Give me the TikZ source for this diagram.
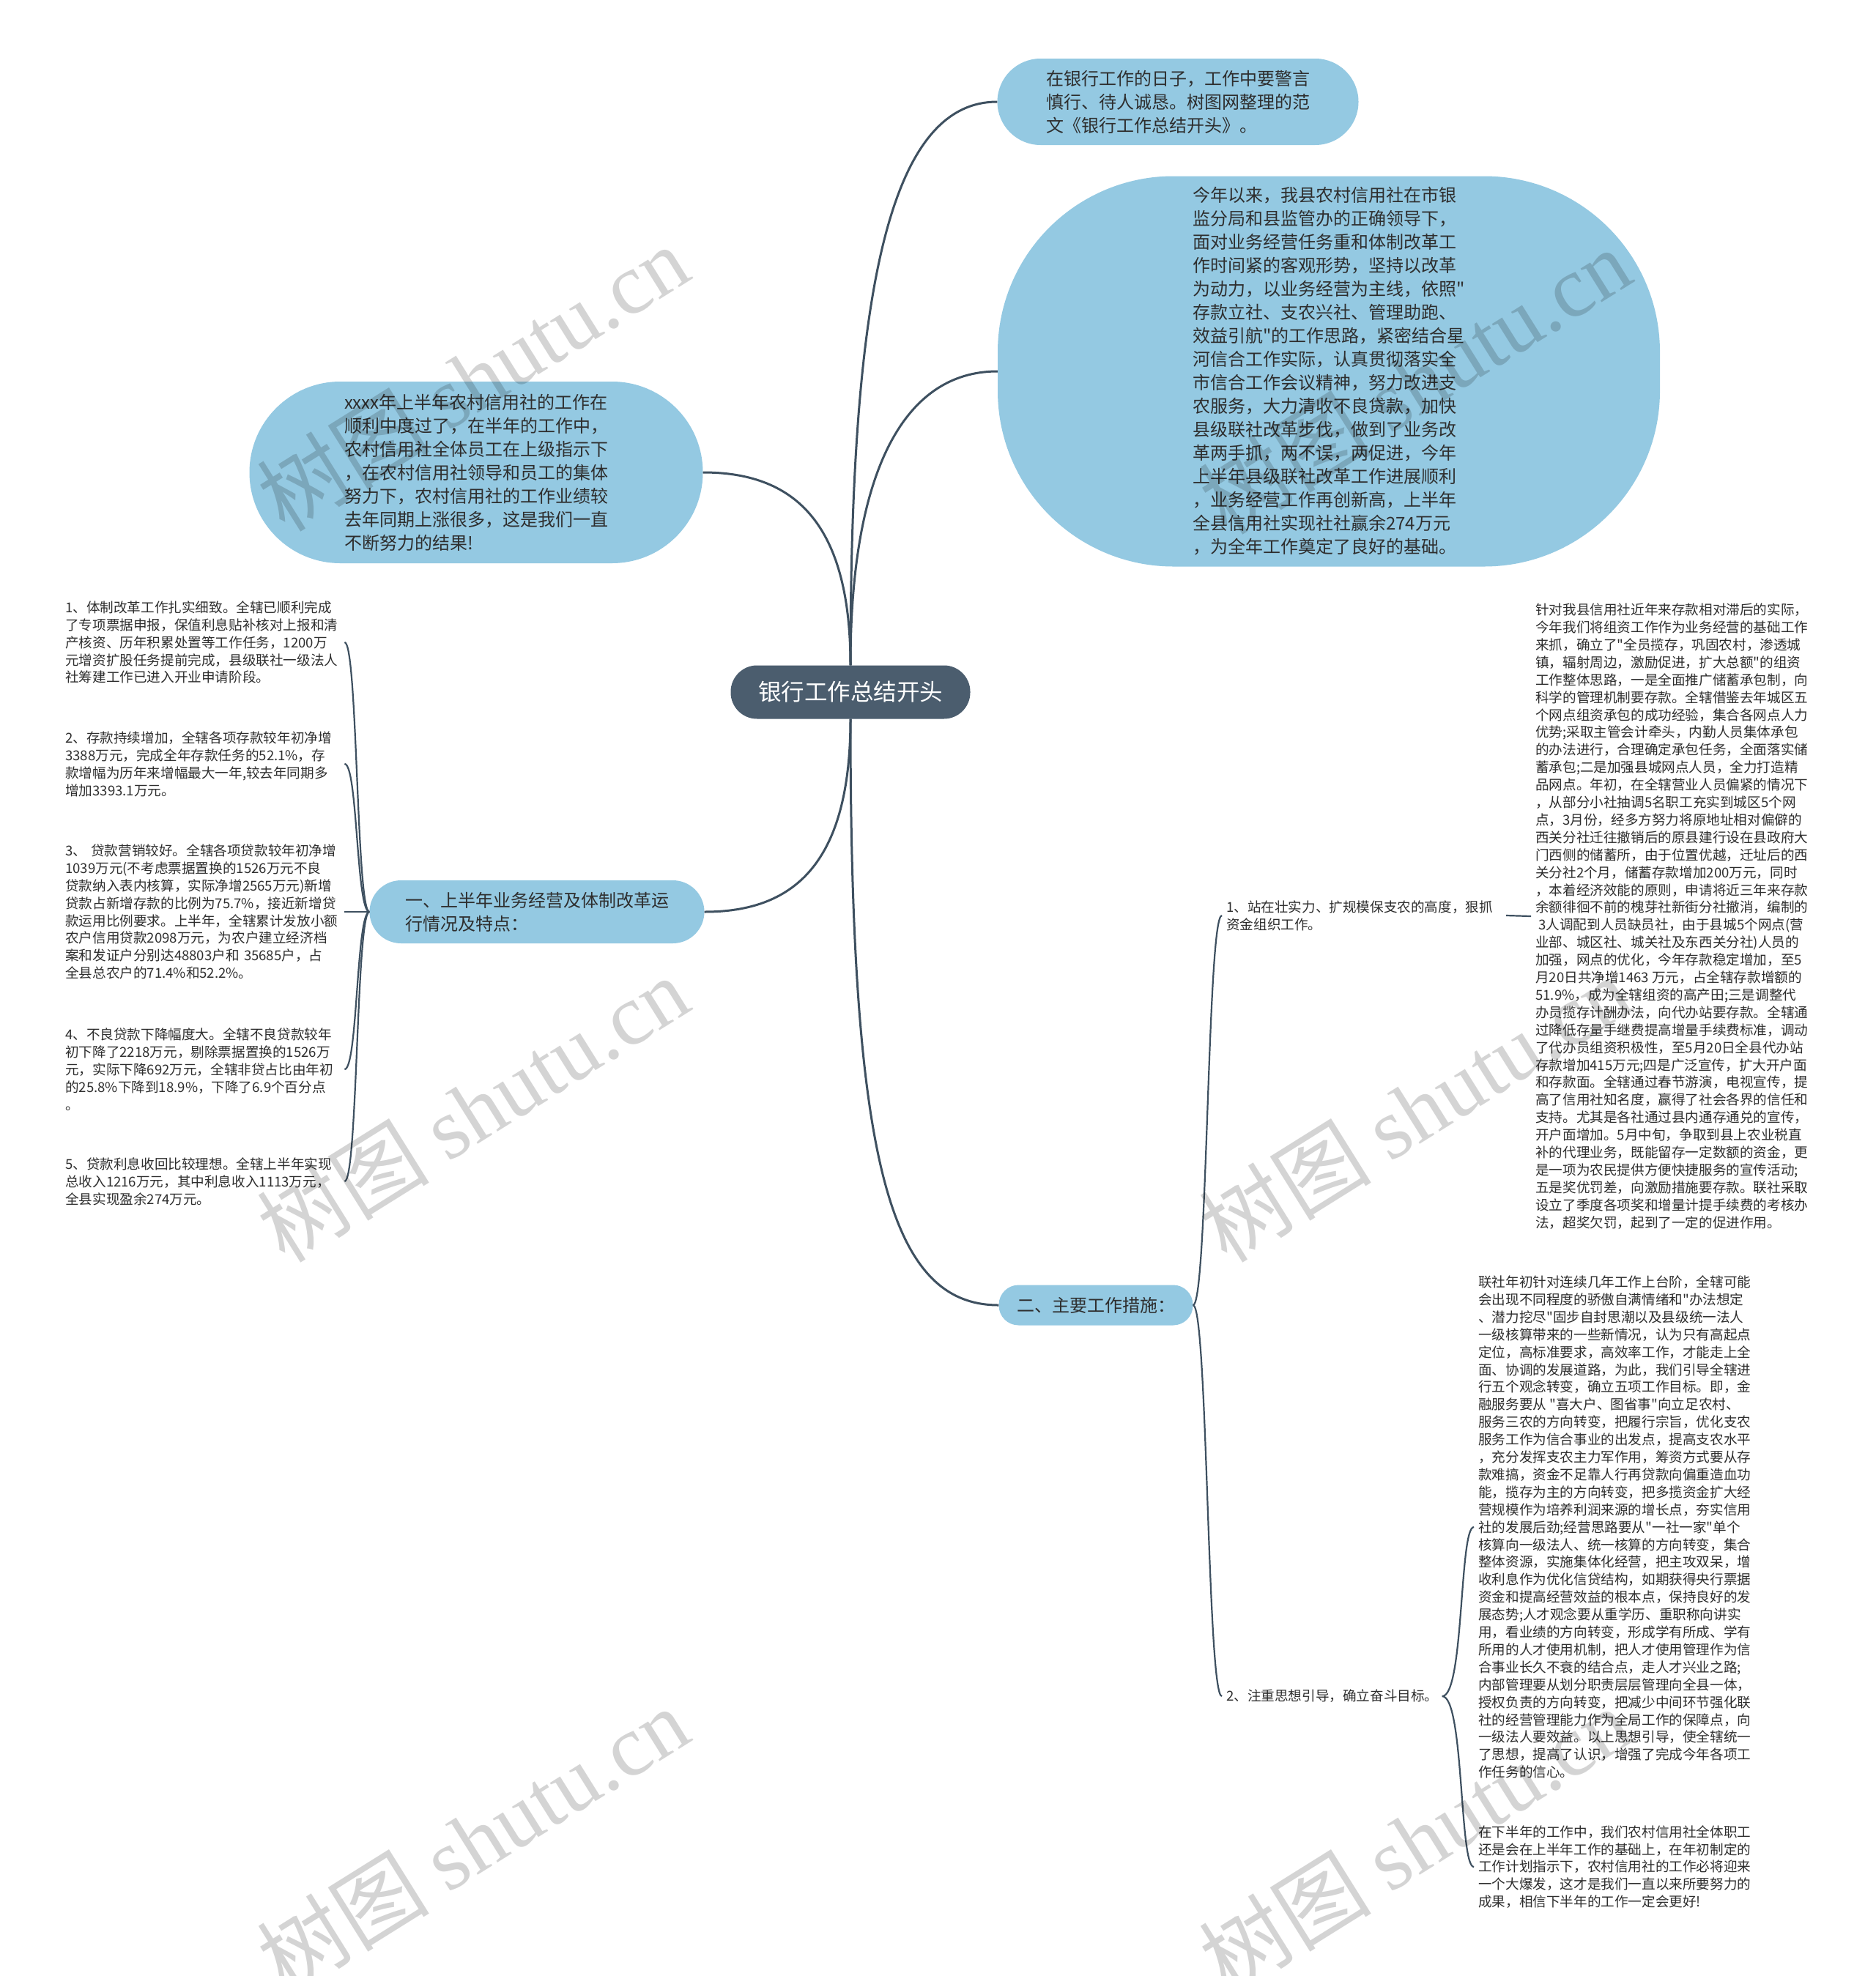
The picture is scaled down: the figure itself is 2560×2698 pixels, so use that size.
\documentclass[tikz,border=0pt]{standalone}
\usepackage{fontspec}
\setmainfont{Noto Sans CJK SC}[Ligatures=TeXOff]
\newfontfamily\wmfont{Liberation Serif}
\definecolor{nodeblue}{HTML}{94C9E2}
\definecolor{rootfill}{HTML}{4B5D6E}
\definecolor{linec}{HTML}{3E5060}
\definecolor{txt}{HTML}{2E2E2E}
\begin{document}
\begin{tikzpicture}[x=1pt,y=-1pt,
  bubble/.style={fill=nodeblue, rounded corners=#1, inner sep=0pt, align=left, text=txt, font=\fontsize{24}{32}\selectfont},
  rootnode/.style={fill=rootfill, rounded corners=36pt, minimum width=327pt, minimum height=73pt, inner sep=0pt, text=white, font=\fontsize{31.5}{36}\selectfont},
  smalltext/.style={inner sep=0pt, align=left, text=txt, font=\fontsize{18.6}{23.9}\selectfont},
  mainconn/.style={draw=linec, line width=3pt},
  subconn/.style={draw=linec, line width=2.2pt},
  watermark/.style={rotate=32, text=black, opacity=0.17, font=\fontsize{118}{118}\selectfont}
]
\fill[white] (0,0) rectangle (2560,2698);
\useasboundingbox (0,0) rectangle (2560,2698);

% root
\node[rootnode] (root) at (1161,945) {银行工作总结开头};

% upper right nodes
\node[bubble=59pt, minimum width=493pt, minimum height=118pt] (intro) at (1608,139)
 {在银行工作的日子，工作中要警言\\慎行、待人诚恳。树图网整理的范\\文《银行工作总结开头》。};

\node[bubble=240pt, minimum width=904pt, minimum height=533pt] (summary) at (1814,507)
 {今年以来，我县农村信用社在市银\\
  监分局和县监管办的正确领导下，\\
  面对业务经营任务重和体制改革工\\
  作时间紧的客观形势，坚持以改革\\
  为动力，以业务经营为主线，依照"\\
  存款立社、支农兴社、管理助跑、\\
  效益引航"的工作思路，紧密结合星\\
  河信合工作实际，认真贯彻落实全\\
  市信合工作会议精神，努力改进支\\
  农服务，大力清收不良贷款，加快\\
  县级联社改革步伐，做到了业务改\\
  革两手抓，两不误，两促进，今年\\
  上半年县级联社改革工作进展顺利\\
  ，业务经营工作再创新高，上半年\\
  全县信用社实现社社赢余274万元\\
  ，为全年工作奠定了良好的基础。};

% left blob
\node[bubble=124pt, minimum width=619pt, minimum height=248pt] (review) at (650,645)
 {xxxx年上半年农村信用社的工作在\\
  顺利中度过了，在半年的工作中，\\
  农村信用社全体员工在上级指示下\\
  ，在农村信用社领导和员工的集体\\
  努力下，农村信用社的工作业绩较\\
  去年同期上涨很多，这是我们一直\\
  不断努力的结果!};

% branches
\node[bubble=43pt, minimum width=457pt, minimum height=86pt] (b1) at (733,1245)
 {一、上半年业务经营及体制改革运\\行情况及特点：};
\node[bubble=27pt, minimum width=265pt, minimum height=55pt] (b2) at (1496,1782)
 {二、主要工作措施：};

% left items
\node[smalltext, anchor=west, text width=375pt] (i1) at (89,877)
 {1、体制改革工作扎实细致。全辖已顺利完成\\
  了专项票据申报，保值利息贴补核对上报和清\\
  产核资、历年积累处置等工作任务，1200万\\
  元增资扩股任务提前完成，县级联社一级法人\\
  社筹建工作已进入开业申请阶段。};
\node[smalltext, anchor=west, text width=375pt] (i2) at (89,1043)
 {2、存款持续增加，全辖各项存款较年初净增\\
  3388万元，完成全年存款任务的52.1\%，存\\
  款增幅为历年来增幅最大一年,较去年同期多\\
  增加3393.1万元。};
\node[smalltext, anchor=west, text width=375pt] (i3) at (89,1245)
 {3、\ 贷款营销较好。全辖各项贷款较年初净增\\
  1039万元(不考虑票据置换的1526万元不良\\
  贷款纳入表内核算，实际净增2565万元)新增\\
  贷款占新增存款的比例为75.7\%，接近新增贷\\
  款运用比例要求。上半年，全辖累计发放小额\\
  农户信用贷款2098万元，为农户建立经济档\\
  案和发证户分别达48803户和 35685户，占\\
  全县总农户的71.4\%和52.2\%。};
\node[smalltext, anchor=west, text width=375pt] (i4) at (89,1460)
 {4、不良贷款下降幅度大。全辖不良贷款较年\\
  初下降了2218万元，剔除票据置换的1526万\\
  元，实际下降692万元，全辖非贷占比由年初\\
  的25.8\%下降到18.9\%，下降了6.9个百分点\\
  。};
\node[smalltext, anchor=west, text width=375pt] (i5) at (89,1613)
 {5、贷款利息收回比较理想。全辖上半年实现\\
  总收入1216万元，其中利息收入1113万元，\\
  全县实现盈余274万元。};

% right items
\node[smalltext, anchor=west] (sA) at (1674,1250)
 {1、站在壮实力、扩规模保支农的高度，狠抓\\资金组织工作。};
\node[smalltext, anchor=west] (sA1) at (2096,1251)
 {针对我县信用社近年来存款相对滞后的实际，\\
  今年我们将组资工作作为业务经营的基础工作\\
  来抓，确立了"全员揽存，巩固农村，渗透城\\
  镇，辐射周边，激励促进，扩大总额"的组资\\
  工作整体思路，一是全面推广储蓄承包制，向\\
  科学的管理机制要存款。全辖借鉴去年城区五\\
  个网点组资承包的成功经验，集合各网点人力\\
  优势;采取主管会计牵头，内勤人员集体承包\\
  的办法进行，合理确定承包任务，全面落实储\\
  蓄承包;二是加强县城网点人员，全力打造精\\
  品网点。年初，在全辖营业人员偏紧的情况下\\
  ，从部分小社抽调5名职工充实到城区5个网\\
  点，3月份，经多方努力将原地址相对偏僻的\\
  西关分社迁往撤销后的原县建行设在县政府大\\
  门西侧的储蓄所，由于位置优越，迁址后的西\\
  关分社2个月，储蓄存款增加200万元，同时\\
  ，本着经济效能的原则，申请将近三年来存款\\
  余额徘徊不前的槐芽社新街分社撤消，编制的\\
  \ 3人调配到人员缺员社，由于县城5个网点(营\\
  业部、城区社、城关社及东西关分社)人员的\\
  加强，网点的优化，今年存款稳定增加，至5\\
  月20日共净增1463 万元，占全辖存款增额的\\
  51.9\%，成为全辖组资的高产田;三是调整代\\
  办员揽存计酬办法，向代办站要存款。全辖通\\
  过降低存量手继费提高增量手续费标准，调动\\
  了代办员组资积极性，至5月20日全县代办站\\
  存款增加415万元;四是广泛宣传，扩大开户面\\
  和存款面。全辖通过春节游演，电视宣传，提\\
  高了信用社知名度，赢得了社会各界的信任和\\
  支持。尤其是各社通过县内通存通兑的宣传，\\
  开户面增加。5月中旬，争取到县上农业税直\\
  补的代理业务，既能留存一定数额的资金，更\\
  是一项为农民提供方便快捷服务的宣传活动;\\
  五是奖优罚差，向激励措施要存款。联社采取\\
  设立了季度各项奖和增量计提手续费的考核办\\
  法，超奖欠罚，起到了一定的促进作用。};
\node[smalltext, anchor=west] (sB) at (1674,2316)
 {2、注重思想引导，确立奋斗目标。};
\node[smalltext, anchor=west] (sB1) at (2018,2085)
 {联社年初针对连续几年工作上台阶，全辖可能\\
  会出现不同程度的骄傲自满情绪和"办法想定\\
  、潜力挖尽"固步自封思潮以及县级统一法人\\
  一级核算带来的一些新情况，认为只有高起点\\
  定位，高标准要求，高效率工作，才能走上全\\
  面、协调的发展道路，为此，我们引导全辖进\\
  行五个观念转变，确立五项工作目标。即，金\\
  融服务要从 "喜大户、图省事"向立足农村、\\
  服务三农的方向转变，把履行宗旨，优化支农\\
  服务工作为信合事业的出发点，提高支农水平\\
  ，充分发挥支农主力军作用，筹资方式要从存\\
  款难搞，资金不足靠人行再贷款向偏重造血功\\
  能，揽存为主的方向转变，把多揽资金扩大经\\
  营规模作为培养利润来源的增长点，夯实信用\\
  社的发展后劲;经营思路要从"一社一家"单个\\
  核算向一级法人、统一核算的方向转变，集合\\
  整体资源，实施集体化经营，把主攻双呆，增\\
  收利息作为优化信贷结构，如期获得央行票据\\
  资金和提高经营效益的根本点，保持良好的发\\
  展态势;人才观念要从重学历、重职称向讲实\\
  用，看业绩的方向转变，形成学有所成、学有\\
  所用的人才使用机制，把人才使用管理作为信\\
  合事业长久不衰的结合点，走人才兴业之路;\\
  内部管理要从划分职责层层管理向全县一体，\\
  授权负责的方向转变，把减少中间环节强化联\\
  社的经营管理能力作为全局工作的保障点，向\\
  一级法人要效益。以上思想引导，使全辖统一\\
  了思想，提高了认识，增强了完成今年各项工\\
  作任务的信心。};
\node[smalltext, anchor=west] (sB2) at (2018,2549)
 {在下半年的工作中，我们农村信用社全体职工\\
  还是会在上半年工作的基础上，在年初制定的\\
  工作计划指示下，农村信用社的工作必将迎来\\
  一个大爆发，这才是我们一直以来所要努力的\\
  成果，相信下半年的工作一定会更好!};

% main connectors
\draw[mainconn] (root.north) .. controls +(0,-500) and +(-150,0) .. (intro.west);
\draw[mainconn] (root.north) .. controls +(0,-260) and +(-130,0) .. (summary.west);
\draw[mainconn] (root.north) .. controls +(0,-200) and +(120,0) .. (review.east);
\draw[mainconn] (root.south) .. controls +(0,200) and +(120,0) .. (b1.east);
\draw[mainconn] (root.south) .. controls +(0,600) and +(-150,0) .. (b2.west);

% left sub connectors
\foreach \n in {i1,i2,i3,i4,i5}{
  \draw[subconn] (b1.west) .. controls +(-18,0) and +(18,0) .. ([xshift=6pt]\n.east);
}

% right sub connectors
\draw[subconn] (b2.east) .. controls +(20,0) and +(-20,0) .. ([xshift=-6pt]sA.west);
\draw[subconn] (b2.east) .. controls +(20,0) and +(-20,0) .. ([xshift=-6pt]sB.west);
\draw[subconn] ([xshift=18pt]sA.east) -- ([xshift=-6pt]sA1.west);
\draw[subconn] ([xshift=5pt]sB.east) .. controls +(30,0) and +(-20,0) .. ([xshift=-6pt]sB1.west);
\draw[subconn] ([xshift=5pt]sB.east) .. controls +(30,0) and +(-20,0) .. ([xshift=-6pt]sB2.west);

% watermarks
\foreach \wx/\wy [count=\k] in {645/516,1931/520,645/1514,1931/1514,645/2512,1931/2512}{
  \node[watermark] (wm\k) at (\wx,\wy) {树图 {\wmfont shutu.cn}};
}
\end{tikzpicture}
\end{document}
